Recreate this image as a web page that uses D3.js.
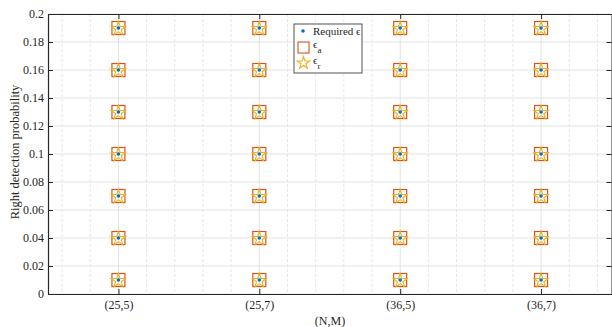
<!DOCTYPE html>
<html><head><meta charset="utf-8">
<script src="https://cdn.jsdelivr.net/npm/d3@7"></script>
<style>body{margin:0;background:#fff}svg{display:block;font-family:"Liberation Serif","Times New Roman",serif}</style>
</head><body><svg id="c" width="612" height="327"></svg>
<script>
const categories = ["(25,5)", "(25,7)", "(36,5)", "(36,7)"];
const requiredEps = [0.01, 0.04, 0.07, 0.10, 0.13, 0.16, 0.19];
const epsA = [0.01, 0.04, 0.07, 0.10, 0.13, 0.16, 0.19];
const epsR = [0.01, 0.04, 0.07, 0.10, 0.13, 0.16, 0.19];
const yTicks = [0, 0.02, 0.04, 0.06, 0.08, 0.1, 0.12, 0.14, 0.16, 0.18, 0.2];
const yTickLabels = ["0", "0.02", "0.04", "0.06", "0.08", "0.1", "0.12", "0.14", "0.16", "0.18", "0.2"];

const svg = d3.select("#c");
const L = 48, R = 611.5, T = 14, B = 294;
const x = d3.scaleLinear().domain([0.5, 4.5]).range([L, R]);
const y = d3.scaleLinear().domain([0, 0.2]).range([B, T]);
const axisCol = "#262626";

// pentagram path
function pentagram(ro) {
  const ri = ro * 0.382;
  const p = [];
  for (let k = 0; k < 10; k++) {
    const r = k % 2 ? ri : ro;
    const a = -Math.PI / 2 + k * Math.PI / 5;
    p.push([r * Math.cos(a), r * Math.sin(a)]);
  }
  return "M" + p.map(q => q[0].toFixed(2) + "," + q[1].toFixed(2)).join("L") + "Z";
}

// minor vertical grid (dashed)
const minor = d3.range(0.6, 4.5, 0.2).filter(v => Math.abs(v - Math.round(v)) > 0.01);
svg.append("g").selectAll("line").data(minor).join("line")
  .attr("x1", d => x(d)).attr("x2", d => x(d)).attr("y1", T).attr("y2", B)
  .attr("stroke", "#e6e6e6").attr("stroke-width", 1).attr("stroke-dasharray", "3,2");
// major grid
svg.append("g").selectAll("line").data([1,2,3,4]).join("line")
  .attr("x1", d => x(d)).attr("x2", d => x(d)).attr("y1", T).attr("y2", B)
  .attr("stroke", "#e3e3e3").attr("stroke-width", 1);
svg.append("g").selectAll("line").data(yTicks).join("line")
  .attr("x1", L).attr("x2", R).attr("y1", d => y(d)).attr("y2", d => y(d))
  .attr("stroke", "#e3e3e3").attr("stroke-width", 1);

// axes
const yAxis = d3.axisLeft(y).tickValues(yTicks).tickFormat((d, i) => yTickLabels[i]).tickSizeInner(-5).tickSizeOuter(0).tickPadding(4);
const gy = svg.append("g").attr("transform", `translate(${L},0)`).call(yAxis);
const yAxisR = d3.axisRight(y).tickValues(yTicks).tickFormat("").tickSizeInner(-5).tickSizeOuter(0);
const gyr = svg.append("g").attr("transform", `translate(${R},0)`).call(yAxisR);
const xAxis = d3.axisBottom(x).tickValues([1,2,3,4]).tickFormat((d) => categories[d-1]).tickSizeInner(-5).tickSizeOuter(0).tickPadding(6);
const gx = svg.append("g").attr("transform", `translate(0,${B})`).call(xAxis);
const xAxisT = d3.axisTop(x).tickValues([1,2,3,4]).tickFormat("").tickSizeInner(-5).tickSizeOuter(0);
const gxt = svg.append("g").attr("transform", `translate(0,${T})`).call(xAxisT);
[gy, gyr, gx, gxt].forEach(g => {
  g.selectAll("path,line").attr("stroke", axisCol);
  g.selectAll("text").attr("fill", axisCol).style("font-size", "12px").style("font-family", "Liberation Serif, serif");
});
gy.select(".domain").attr("stroke-width", 1.2);
gx.select(".domain").attr("stroke-width", 1.2);

// markers
const pts = (vals) => categories.flatMap((c, i) => vals.map(v => ({cx: x(i+1), cy: y(v)})));
const sqS = 13;
svg.append("g").selectAll("rect").data(pts(epsA)).join("rect")
  .attr("x", d => d.cx - sqS/2).attr("y", d => d.cy - sqS/2).attr("width", sqS).attr("height", sqS)
  .attr("fill", "none").attr("stroke", "#D95319").attr("stroke-width", 1.2);
svg.append("g").selectAll("path").data(pts(epsR)).join("path")
  .attr("d", pentagram(7.5)).attr("transform", d => `translate(${d.cx},${d.cy + 0.8})`)
  .attr("fill", "none").attr("stroke", "#EDB120").attr("stroke-width", 1.1);
svg.append("g").selectAll("circle").data(pts(requiredEps)).join("circle")
  .attr("cx", d => d.cx).attr("cy", d => d.cy).attr("r", 1.8).attr("fill", "#0072BD");

// legend
const lg = svg.append("g");
lg.append("rect").attr("x", 294).attr("y", 24).attr("width", 68).attr("height", 49)
  .attr("fill", "#fff").attr("stroke", axisCol).attr("stroke-width", 0.8);
lg.append("circle").attr("cx", 303).attr("cy", 31).attr("r", 1.8).attr("fill", "#0072BD");
lg.append("text").attr("x", 313).attr("y", 35).style("font-size", "11px").attr("fill", axisCol).text("Required ϵ");
lg.append("rect").attr("x", 298).attr("y", 42).attr("width", 11).attr("height", 11).attr("fill", "none").attr("stroke", "#D95319").attr("stroke-width", 1.1);
const t2 = lg.append("text").attr("x", 313).attr("y", 48).style("font-size", "11px").attr("fill", axisCol);
t2.append("tspan").text("ϵ");
t2.append("tspan").attr("dy", 5).style("font-size", "9px").text("a");
lg.append("path").attr("d", pentagram(6.5)).attr("transform", "translate(303.5,63)")
  .attr("fill", "none").attr("stroke", "#EDB120").attr("stroke-width", 1.1);
const t3 = lg.append("text").attr("x", 313).attr("y", 64).style("font-size", "11px").attr("fill", axisCol);
t3.append("tspan").text("ϵ");
t3.append("tspan").attr("dy", 5).style("font-size", "9px").text("r");

// axis labels
svg.append("text").attr("x", 330).attr("y", 325).attr("text-anchor", "middle")
  .style("font-size", "12px").attr("fill", axisCol).text("(N,M)");
svg.append("text").attr("transform", `translate(19,152) rotate(-90)`).attr("text-anchor", "middle")
  .style("font-size", "12.5px").attr("fill", axisCol).text("Right detection probability");
</script></body></html>
